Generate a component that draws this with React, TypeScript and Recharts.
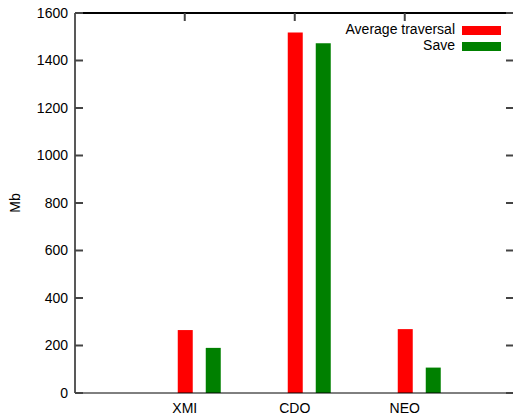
import { Bar, BarChart, Legend, ReferenceLine, XAxis, YAxis } from "recharts";

const categories = ["XMI", "CDO", "NEO"];
const averageTraversal = [265, 1518, 269];
const save = [190, 1473, 107];
const yTicks = [0, 200, 400, 600, 800, 1000, 1200, 1400, 1600];
const yMax = 1600;

const FONT = "'Liberation Sans', Arial, Helvetica, sans-serif";
const BAR = 15;
const GAP = 13;
// gnuplot puts the tic under the first bar of each cluster
const SHIFT = -(BAR + GAP) / 2;
const TIC = "#444";

const data = categories.map((name, i) => ({
  name,
  traversal: averageTraversal[i],
  save: save[i],
}));

function TopTick({ x, y }: any) {
  return <path d={`M${x + SHIFT},${y} v8`} stroke={TIC} strokeWidth={2} fill="none" />;
}

const keyItem = (value: any, entry: any) => (
  <span style={{ display: "inline-block", width: 200, textAlign: "right", color: "#000", fontFamily: FONT, fontSize: 14 }}>
    {value}
    <span
      style={{
        display: "inline-block",
        width: 39,
        height: 9,
        marginLeft: 7,
        background: entry.color,
        verticalAlign: "middle",
      }}
    />
  </span>
);

export default function App() {
  return (
    <div style={{ position: "fixed", top: 0, left: 0, width: 513, height: 419, overflow: "hidden", background: "#fff" }}>
      <BarChart
        width={515}
        height={419}
        data={data}
        margin={{ top: 12, right: 0, bottom: 0, left: 0 }}
        barSize={BAR}
        barGap={GAP}
      >
        <XAxis
          dataKey="name"
          height={26}
          padding={{ left: 68.75, right: 40.25 }}
          tickSize={0}
          tickMargin={10}
          axisLine={{ stroke: "#000" }}
          tickLine={false}
          tick={{ fontSize: 14, fontFamily: FONT, fill: "#000", dx: SHIFT }}
          interval={0}
        />
        <XAxis
          xAxisId="top"
          orientation="top"
          dataKey="name"
          height={1}
          padding={{ left: 68.75, right: 40.25 }}
          tickSize={0}
          tickMargin={0}
          axisLine={false}
          tickLine={false}
          tick={<TopTick />}
          interval={0}
        />
        <YAxis
          width={75}
          domain={[0, yMax]}
          ticks={yTicks}
          tickSize={-8}
          tickMargin={15}
          axisLine={{ stroke: "#222", strokeWidth: 1.5 }}
          tickLine={{ stroke: TIC, strokeWidth: 2 }}
          tick={{ fontSize: 14, fontFamily: FONT, fill: "#000" }}
          interval={0}
          label={{
            value: "Mb",
            angle: -90,
            position: "insideLeft",
            offset: 15,
            textAnchor: "middle",
            fontSize: 14,
            fontFamily: FONT,
            fill: "#000",
          }}
        />
        <YAxis
          yAxisId="right"
          orientation="right"
          width={1}
          domain={[0, yMax]}
          allowDataOverflow
          ticks={yTicks}
          tickSize={-8}
          tickMargin={0}
          axisLine={false}
          tickLine={{ stroke: TIC, strokeWidth: 2 }}
          tickFormatter={() => ""}
          interval={0}
        />
        <ReferenceLine y={yMax} stroke="#000" strokeWidth={2} ifOverflow="visible" />
        <Legend
          layout="horizontal"
          verticalAlign="middle"
          align="center"
          iconSize={0}
          formatter={keyItem}
          wrapperStyle={{ position: "absolute", top: 21, left: 294, width: 220, lineHeight: "16px" }}
        />
        <Bar dataKey="traversal" name="Average traversal" fill="#ff0000" isAnimationActive={false} />
        <Bar dataKey="save" name="Save" fill="#008000" isAnimationActive={false} />
      </BarChart>
    </div>
  );
}
